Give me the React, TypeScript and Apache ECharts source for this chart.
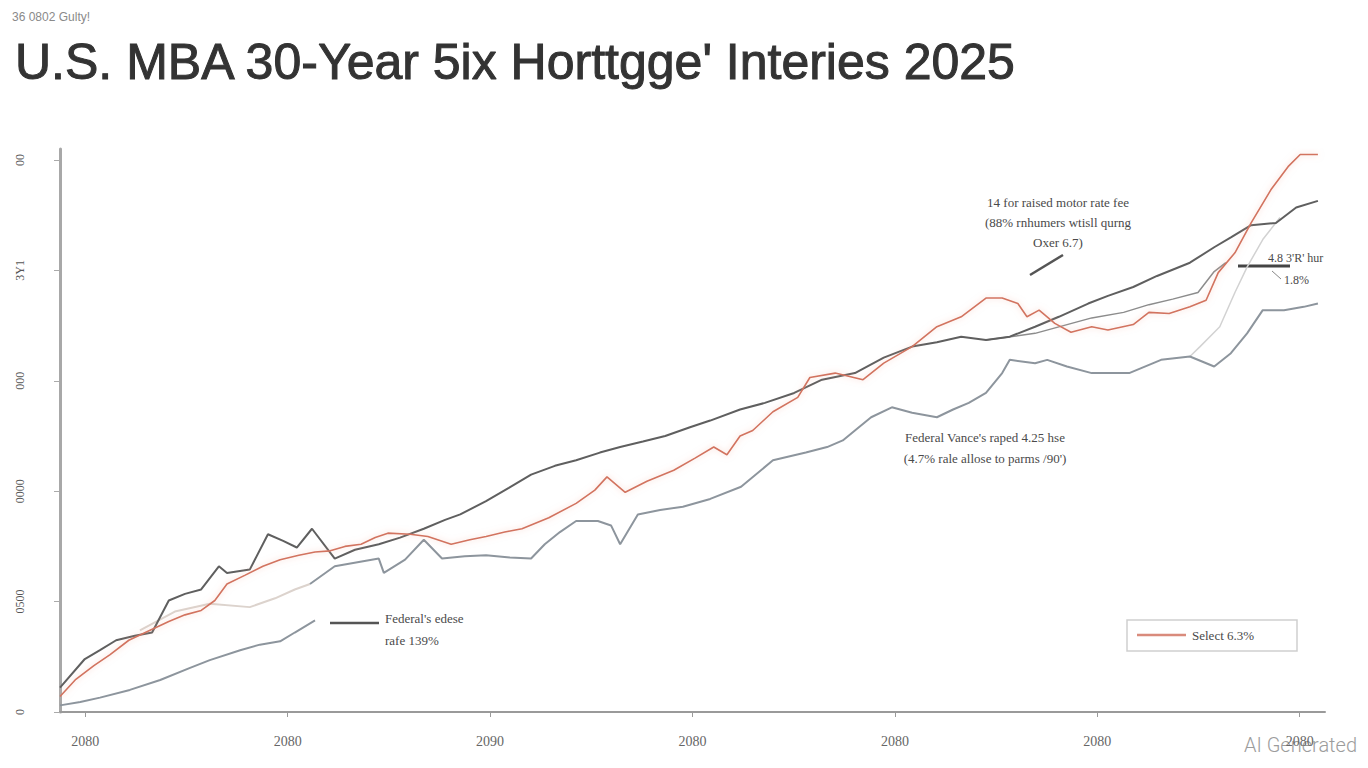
import React, { useEffect, useRef } from "react";
import * as echarts from "echarts";

const TITLE = "U.S. MBA 30-Year 5ix Horttgge' Interies 2025";
const SUBTITLE = "36 0802 Gulty!";

const xTickValues = [5, 45, 85, 125, 165, 205, 245];
const xTickLabels = ["2080", "2080", "2090", "2080", "2080", "2080", "2080"];
const yTickValues = [0, 1, 2, 3, 4, 5];
const yTickLabels = ["0", "0500", "0000", "000", "3Y1", "00"];

// dark gray line
const seriesA = [
  [0, 0.22], [4.9, 0.48], [7.9, 0.56], [11.1, 0.65], [14.8, 0.69], [18.2, 0.72], [21.5, 1.01],
  [24.7, 1.07], [27.9, 1.11], [31.4, 1.32], [33.0, 1.26], [37.5, 1.29], [41.1, 1.61], [44.1, 1.55],
  [46.8, 1.49], [49.8, 1.66], [54.3, 1.39], [58.3, 1.47], [63.0, 1.52], [67.2, 1.58], [71.9, 1.66],
  [76.1, 1.74], [79.1, 1.79], [84.2, 1.91], [88.7, 2.03], [93.1, 2.15], [97.8, 2.23], [102.0, 2.28],
  [106.7, 2.35], [110.7, 2.40], [115.2, 2.45], [119.6, 2.5], [124.5, 2.58], [128.5, 2.64],
  [134.4, 2.74], [139.3, 2.8], [145.1, 2.89], [150.6, 3.01], [157.1, 3.07], [162.8, 3.21],
  [168.4, 3.31], [173.3, 3.35], [178.1, 3.4], [183.0, 3.37], [187.7, 3.4], [192.7, 3.49],
  [197.4, 3.58], [203.2, 3.70], [207.1, 3.77], [212.1, 3.85], [216.8, 3.95], [223.3, 4.07],
  [228.1, 4.21], [231.4, 4.3], [235.4, 4.41], [240.3, 4.43], [244.3, 4.57], [248.6, 4.63],
];

// red / salmon line
const seriesB = [
  [0, 0.14], [3.0, 0.29], [6.7, 0.42], [9.9, 0.52], [13.6, 0.65], [17.8, 0.74], [21.5, 0.82],
  [24.7, 0.88], [27.9, 0.92], [30.6, 1.01], [33.0, 1.16], [36.6, 1.24], [40.1, 1.32], [43.5, 1.38],
  [47.2, 1.42], [50.4, 1.45], [53.4, 1.46], [56.3, 1.5], [59.5, 1.52], [62.3, 1.58], [64.8, 1.62],
  [69.2, 1.61], [72.7, 1.59], [77.3, 1.52], [81.0, 1.56], [84.2, 1.59], [87.9, 1.63], [91.3, 1.66],
  [96.6, 1.76], [102.0, 1.89], [105.7, 2.01], [108.1, 2.13], [111.7, 1.99], [116.0, 2.09],
  [121.3, 2.19], [125.5, 2.3], [129.2, 2.4], [131.8, 2.33], [134.4, 2.5], [136.9, 2.55],
  [140.9, 2.72], [145.8, 2.85], [148.2, 3.03], [153.2, 3.07], [158.7, 3.01], [162.8, 3.16],
  [168.4, 3.31], [173.3, 3.49], [178.1, 3.58], [183.0, 3.75], [186.2, 3.75], [189.3, 3.7],
  [191.1, 3.58], [193.5, 3.64], [196.6, 3.52], [199.8, 3.44], [203.9, 3.49], [207.1, 3.46],
  [212.1, 3.51], [215.2, 3.62], [219.2, 3.61], [223.3, 3.67], [226.5, 3.73], [228.9, 3.98],
  [232.2, 4.16], [235.4, 4.43], [239.3, 4.73], [242.7, 4.94], [245.1, 5.05], [248.6, 5.05],
];

// lower-left blue-gray segment
const seriesC1 = [
  [0, 0.06], [4.0, 0.09], [7.9, 0.13], [13.8, 0.2], [19.8, 0.29], [25.7, 0.4], [29.6, 0.47],
  [35.6, 0.56], [39.5, 0.61], [43.5, 0.64], [46.4, 0.72], [50.4, 0.83],
];

// lower blue-gray line
const seriesC2 = [
  [49.4, 1.16], [54.3, 1.32], [63.0, 1.39], [64.0, 1.26], [68.2, 1.38], [71.9, 1.56], [75.5, 1.39],
  [80.0, 1.41], [84.2, 1.42], [88.9, 1.4], [93.1, 1.39], [95.8, 1.52], [98.8, 1.63], [102.0, 1.73],
  [106.3, 1.73], [108.9, 1.69], [110.7, 1.52], [114.2, 1.79], [118.6, 1.83], [123.1, 1.86],
  [128.5, 1.93], [134.6, 2.04], [140.9, 2.28], [147.4, 2.35], [151.6, 2.4], [154.7, 2.46],
  [157.1, 2.55], [160.3, 2.67], [164.4, 2.76], [168.4, 2.71], [173.3, 2.67], [176.5, 2.74],
  [179.6, 2.8], [183.0, 2.89], [186.2, 3.07], [187.7, 3.19], [192.7, 3.16], [195.1, 3.19],
  [199.0, 3.13], [203.9, 3.07], [211.3, 3.07], [217.6, 3.19], [223.3, 3.22], [228.1, 3.13],
  [231.4, 3.25], [234.6, 3.43], [237.7, 3.64], [241.9, 3.64], [245.8, 3.67], [248.6, 3.7],
];

// middle gray branch
const seriesD = [
  [183.0, 3.37], [192.7, 3.43], [203.9, 3.57], [210.2, 3.62], [215.2, 3.69], [219.9, 3.74],
  [224.9, 3.8], [228.1, 3.99], [230.4, 4.07],
];

// pale lines
const seriesE = [
  [15.8, 0.74], [22.7, 0.91], [29.6, 0.98], [37.5, 0.95], [42.5, 1.03], [46.4, 1.11], [49.4, 1.16],
];
const seriesE2 = [
  [223.3, 3.22], [225.3, 3.31], [229.2, 3.49], [232.2, 3.8], [234.6, 4.03], [237.7, 4.28], [241.1, 4.48],
];

const noteTop = ["14 for raised motor rate fee", "(88% rnhumers wtisll qurng", "Oxer 6.7)"];
const noteMid = ["Federal Vance's raped 4.25 hse", "(4.7% rale allose to parms /90')"];
const noteLow = ["Federal's edese", "rafe 139%"];
const noteRight = ["4.8 3'R' hur", "1.8%"];
const legendLabel = "Select 6.3%";

const SERIF = '"Liberation Serif", "DejaVu Serif", serif';

export default function App() {
  const ref = useRef<HTMLDivElement>(null);
  useEffect(() => {
    if (!ref.current) return;
    const chart = echarts.init(ref.current, null, { renderer: "svg" });
    const noteStyle = (extra: any) => ({
      fill: "#4a4a4a",
      font: `13px ${SERIF}`,
      ...extra,
    });
    const lineSeries = (name: string, data: number[][], color: string, width: number, z: number, extra: any = {}) => ({
      name,
      type: "line",
      data,
      symbol: "none",
      showSymbol: false,
      z,
      lineStyle: { color, width, ...extra },
      emphasis: { disabled: true },
    });
    chart.setOption({
      animation: false,
      backgroundColor: "#ffffff",
      title: {
        text: TITLE,
        left: 10,
        top: 32,
        textStyle: {
          fontSize: 50,
          fontWeight: "normal",
          color: "#333333",
          textBorderColor: "#333333",
          textBorderWidth: 1,
          fontFamily: '"Liberation Sans", Arial, sans-serif',
        },
      },
      grid: { left: 60, right: 43, top: 149, bottom: 56 },
      xAxis: {
        type: "value",
        min: 0,
        max: 250,
        splitLine: { show: false },
        axisLine: { show: true, lineStyle: { color: "#9a9a9a", width: 2 } },
        axisTick: { show: true, customValues: xTickValues, length: 5, lineStyle: { color: "#9a9a9a" } },
        axisLabel: {
          customValues: xTickValues,
          margin: 22,
          color: "#666",
          fontSize: 14,
          fontFamily: SERIF,
          formatter: (v: number) => {
            const i = xTickValues.indexOf(v);
            return i >= 0 ? xTickLabels[i] : "";
          },
        },
      },
      yAxis: {
        type: "value",
        min: 0,
        max: 5.1,
        splitLine: { show: false },
        axisLine: { show: true, lineStyle: { color: "#a8a8a8", width: 3 } },
        axisTick: { show: true, customValues: yTickValues, length: 6, lineStyle: { color: "#aaa" } },
        axisLabel: {
          customValues: yTickValues,
          rotate: 90,
          margin: 34,
          color: "#555",
          fontSize: 12,
          fontFamily: SERIF,
          formatter: (v: number) => {
            const i = yTickValues.indexOf(v);
            return i >= 0 ? yTickLabels[i] : "";
          },
        },
      },
      series: [
        lineSeries("E", seriesE, "#dcd3cd", 2, 1),
        lineSeries("E2", seriesE2, "#d2d2d2", 1.5, 1),
        lineSeries("C1", seriesC1, "#8d959d", 2, 2),
        lineSeries("C2", seriesC2, "#8d959d", 2, 2),
        lineSeries("D", seriesD, "#8c8c8c", 1.5, 3),
        lineSeries("A", seriesA, "#5f5f5f", 2, 4),
        lineSeries("B", seriesB, "#d2735f", 1.6, 5, {
          shadowBlur: 6,
          shadowColor: "rgba(240,170,150,0.55)",
        }),
      ],
      graphic: [
        { type: "text", left: 12, top: 11, style: { text: SUBTITLE, fill: "#8a8a8a", font: '12px "Liberation Sans", Arial, sans-serif' } },
        ...noteTop.map((t, i) => ({
          type: "text",
          x: 1058,
          y: 202 + i * 20,
          style: noteStyle({ text: t, textAlign: "center", textVerticalAlign: "middle" }),
        })),
        { type: "line", shape: { x1: 1030, y1: 275, x2: 1063, y2: 255 }, style: { stroke: "#555", lineWidth: 2.5 } },
        ...noteMid.map((t, i) => ({
          type: "text",
          x: 985,
          y: 437 + i * 21,
          style: noteStyle({ text: t, textAlign: "center", textVerticalAlign: "middle" }),
        })),
        { type: "line", shape: { x1: 330, y1: 623, x2: 379, y2: 623 }, style: { stroke: "#555", lineWidth: 2.5 } },
        ...noteLow.map((t, i) => ({
          type: "text",
          x: 385,
          y: 618 + i * 22,
          style: noteStyle({ text: t, textAlign: "left", textVerticalAlign: "middle" }),
        })),
        { type: "line", shape: { x1: 1238, y1: 266, x2: 1290, y2: 266 }, style: { stroke: "#444", lineWidth: 3 } },
        { type: "line", shape: { x1: 1272, y1: 271, x2: 1281, y2: 279 }, style: { stroke: "#888", lineWidth: 1 } },
        {
          type: "text",
          x: 1268,
          y: 258,
          style: noteStyle({ text: noteRight[0], textAlign: "left", textVerticalAlign: "middle", font: `12px ${SERIF}` }),
        },
        {
          type: "text",
          x: 1284,
          y: 280,
          style: noteStyle({ text: noteRight[1], textAlign: "left", textVerticalAlign: "middle", font: `12px ${SERIF}` }),
        },
        {
          type: "rect",
          shape: { x: 1127, y: 620, width: 170, height: 31 },
          style: { fill: "#fff", stroke: "#cfcfcf", lineWidth: 1.5 },
        },
        { type: "line", shape: { x1: 1137, y1: 635, x2: 1186, y2: 635 }, style: { stroke: "#d98b7c", lineWidth: 2.5 } },
        {
          type: "text",
          x: 1192,
          y: 635,
          style: noteStyle({ text: legendLabel, textAlign: "left", textVerticalAlign: "middle" }),
        },
        {
          type: "text",
          x: 1357,
          y: 745,
          style: {
            text: "AI Generated",
            textAlign: "right",
            textVerticalAlign: "middle",
            fill: "#9c9c9c",
            font: '300 20px Roboto, "Liberation Sans", sans-serif',
          },
        },
      ],
    });
    return () => chart.dispose();
  }, []);
  return <div ref={ref} style={{ position: "fixed", left: 0, top: 0, width: 1368, height: 768 }} />;
}
